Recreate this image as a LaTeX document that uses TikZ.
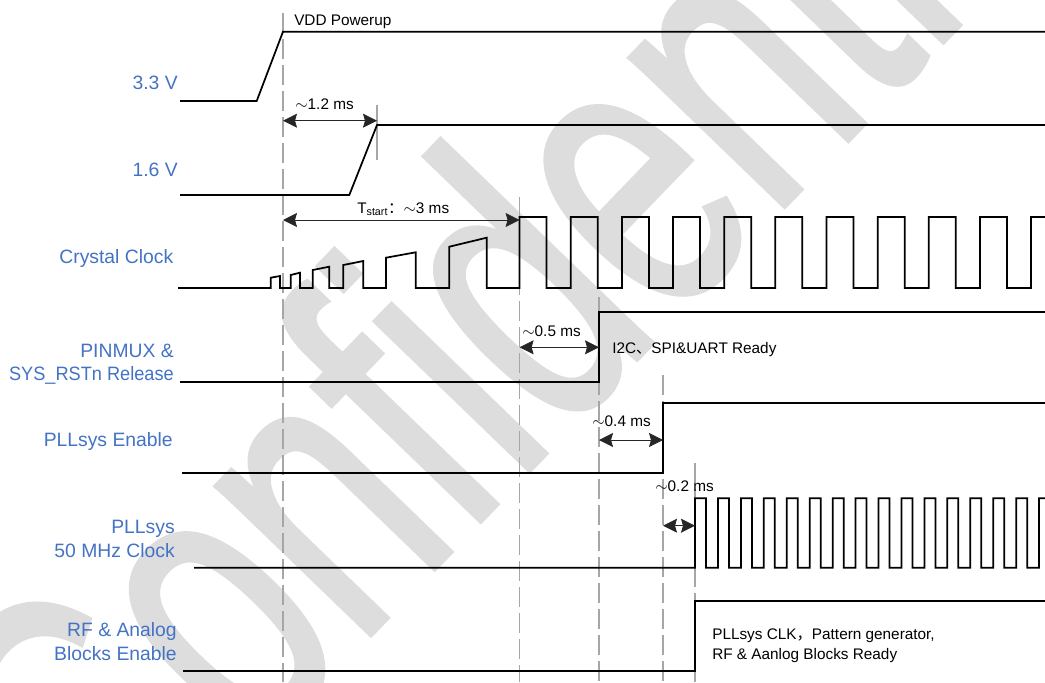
\documentclass[tikz,border=0pt]{standalone}
\usepackage{fontspec}
\setmainfont{Liberation Sans}
\newfontfamily\cjk{Noto Sans CJK SC}
\newfontfamily\wmfont{Liberation Sans}[FakeBold=1.5]
\usepackage{graphicx}
\usepackage{tikz}
\usetikzlibrary{arrows.meta,positioning}
\definecolor{LabelBlue}{HTML}{4472C4}
\definecolor{Guide}{HTML}{A6A6A6}
\definecolor{WaterMark}{HTML}{DDDDDD}

\tikzset{
	sig/.style={draw=black, line width=1.3pt},
	guide/.style={draw=Guide, line width=0.8pt, dash pattern=on 15pt off 4.5pt},
	dim/.style={draw=black!85, line width=0.6pt, >={Stealth[length=10.5pt,width=10.5pt,inset=1.5pt]}, <->},
	siglabel/.style={text=LabelBlue, font=\fontsize{14.5}{17.5}\selectfont, align=right, anchor=base east, inner sep=0pt},
	note/.style={font=\fontsize{11.5}{15}\selectfont, align=left, anchor=base west, inner sep=0pt},
	wmark/.style={text=WaterMark, font=\wmfont\fontsize{303}{303}\selectfont, rotate=46, anchor=base west, inner sep=0pt}
}

\begin{document}
\begin{tikzpicture}[x=0.75pt, y=-0.75pt]
	\useasboundingbox (0,0) rectangle (1045,682);
	
	% watermark
	\begin{scope}
		\clip (0,0) rectangle (1045,682);
		\node[wmark] (wm) at (113,901) {\scalebox{0.68}[1]{Confidential}};
	\end{scope}
	
	% time marks
	\coordinate (tvdd) at (283,0);
	\coordinate (tcore) at (377,0);
	\coordinate (txtal) at (519.6,0);
	\coordinate (trst) at (599,0);
	\coordinate (tpll) at (663,0);
	\coordinate (tclk) at (695,0);
	
	\draw[guide] (tvdd |- 0,13) -- (tvdd |- 0,682);
	\draw[guide, solid] (tcore |- 0,105) -- (tcore |- 0,160);
	\draw[guide] (txtal |- 0,197) -- (txtal |- 0,682);
	\draw[guide] (trst |- 0,297) -- (trst |- 0,682);
	\draw[guide] (tpll |- 0,375) -- (tpll |- 0,682);
	\draw[guide] (tclk |- 0,463) -- (tclk |- 0,682);
	
	% signal names (base = last line)
	\node[siglabel] (l33) at (178,89) {3.3 V};
	\node[siglabel] (l16) at (178,176) {1.6 V};
	\node[siglabel] (lxtal) at (173.5,263) {Crystal Clock};
	\node[siglabel] (lrst) at (174,380.7) {PINMUX \&\\\scalebox{0.94}[1]{SYS\_RSTn Release}};
	\node[siglabel] (lpllen) at (173,446) {PLLsys Enable};
	\node[siglabel] (lpllclk) at (175,557) {PLLsys\\50 MHz Clock};
	\node[siglabel] (lrf) at (177,660) {RF \& Analog\\Blocks Enable};
	
	% waveforms
	\draw[sig] (180,101) -- (256.7,101) -- (tvdd |- 0,31.7) -- (1045,31.7);
	\draw[sig] (180,195) -- (349.3,195) -- (tcore |- 0,125) -- (1045,125);
	\draw[sig] (178,288) -- (270.7,288) -- (270.7,277.7) -- (280,276) -- (280,288)
		-- (290.7,288) -- (290.7,275) -- (300,272.7) -- (300,288)
		-- (312.7,288) -- (312.7,270) -- (329.3,266.7) -- (329.3,288)
		-- (343.3,288) -- (343.3,265) -- (363.3,261) -- (363.3,288)
		-- (386,288) -- (386,257.7) -- (415.7,252.3) -- (415.7,288)
		-- (449.3,288) -- (449.3,246.7) -- (486.7,237.7) -- (486.7,288) -- (txtal |- 0,288)
		\foreach \k in {0,...,9}{ -- ({519.6+51.15*\k},217) -- ({546.6+51.15*\k},217) -- ({546.6+51.15*\k},288) -- ({570.75+51.15*\k},288)}
		-- (1031.1,217) -- (1045,217);
	\draw[sig] (180,382.3) -- (trst |- 0,382.3) -- (trst |- 0,311.7) -- (1045,311.7);
	\draw[sig] (182,472.7) -- (tpll |- 0,472.7) -- (tpll |- 0,403.3) -- (1045,403.3);
	\draw[sig] (194,567.7) -- (tclk |- 0,567.7)
		\foreach \k in {0,...,14}{ -- ({695+22.94*\k},498.3) -- ({706+22.94*\k},498.3) -- ({706+22.94*\k},567.7) -- ({717.94+22.94*\k},567.7)}
		-- (1039.1,498.3) -- (1045,498.3);
	\draw[sig] (183,670.7) -- (tclk |- 0,670.7) -- (tclk |- 0,600.7) -- (1045,600.7);
	
	% delays
	\draw[dim] (tvdd |- 0,120.7) -- (tcore |- 0,120.7);
	\draw[dim] (tvdd |- 0,220) -- (txtal |- 0,220);
	\draw[dim] (txtal |- 0,347.3) -- (trst |- 0,347.3);
	\draw[dim] (trst |- 0,440) -- (tpll |- 0,440);
	\draw[dim] (tpll |- 0,525.7) -- (tclk |- 0,525.7);
	
	\node[note] (vdd) at (294,25) {VDD Powerup};
	\node[note] (d12) at (295,109) {$\sim$1.2 ms};
	\node[note] (dstart) at (357,213) {T\textsubscript{start}{\cjk ：}$\sim$3 ms};
	\node[note] (d05) at (522,336) {$\sim$0.5 ms};
	\node[note] (ready) at (612,353) {I2C{\cjk 、}SPI\&UART Ready};
	\node[note] (d04) at (592,426) {$\sim$0.4 ms};
	\node[note] (d02) at (655,491) {$\sim$0.2 ms};
	\node[note] (rfready) at (712,659.3) {PLLsys CLK{\cjk ，}Pattern generator,\\RF \& Aanlog Blocks Ready};
\end{tikzpicture}
\end{document}
